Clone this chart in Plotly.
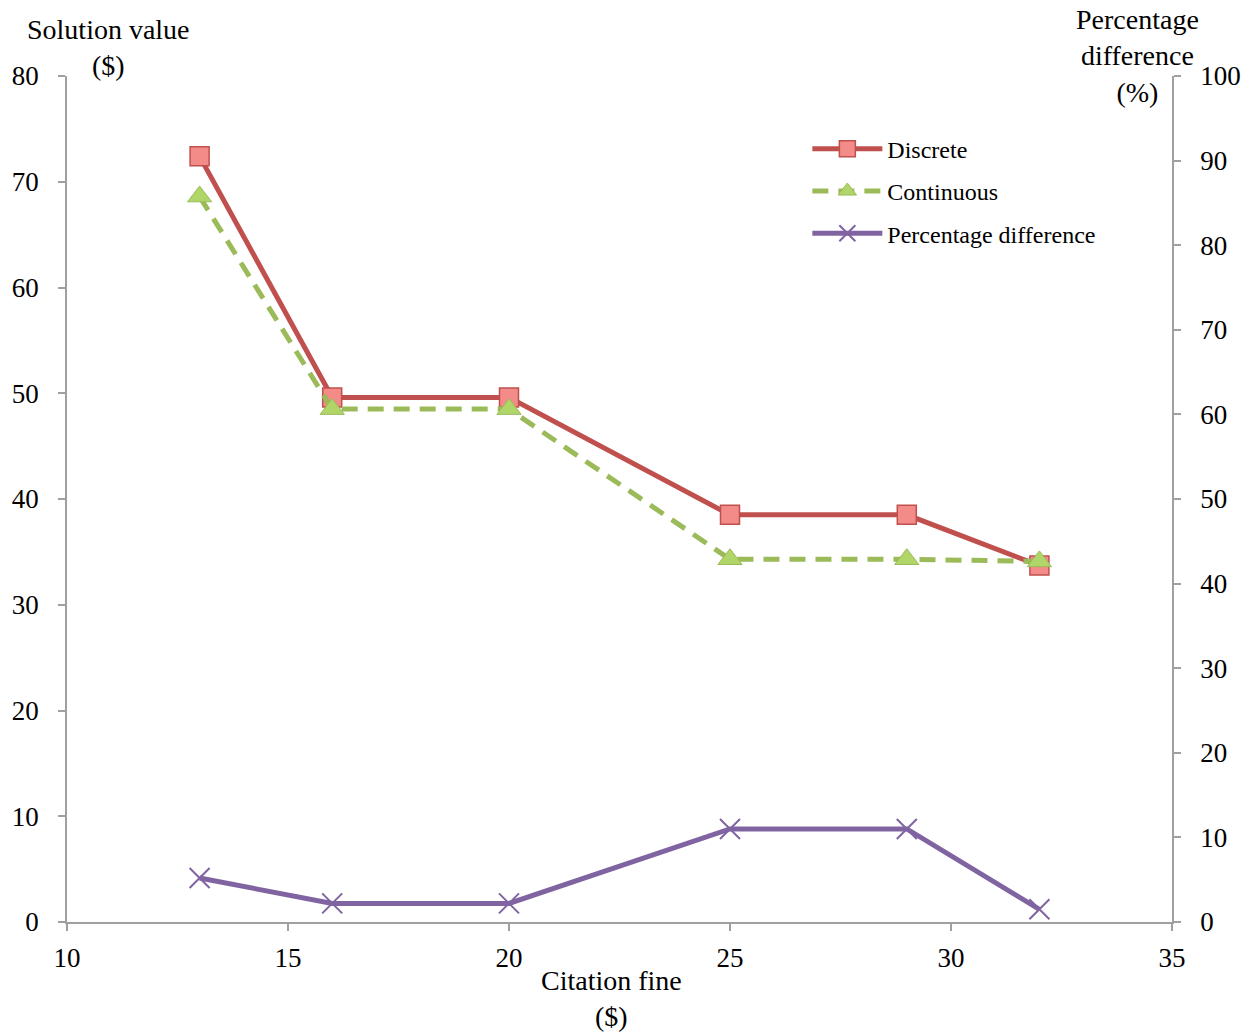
import plotly.graph_objects as go

fine = [13, 16, 20, 25, 29, 32]
discrete = [72.4, 49.6, 49.6, 38.5, 38.5, 33.7]
continuous = [68.6, 48.5, 48.5, 34.3, 34.3, 34.1]
pct_diff = [5.2, 2.2, 2.2, 11.0, 11.0, 1.5]

FONT = "Liberation Serif"
fig = go.Figure()
fig.add_trace(go.Scatter(
    x=fine, y=discrete, name="Discrete", mode="lines+markers", legendgroup="a",
    line=dict(color="#C0504D", width=5),
    marker=dict(symbol="square", size=19, color="#F38B88", line=dict(color="#C0504D", width=1.5)),
))
fig.add_trace(go.Scatter(
    x=fine, y=continuous, name="Continuous", mode="lines+markers", legendgroup="b",
    line=dict(color="#9BBB59", width=5, dash="16px,10px"),
    marker=dict(symbol="triangle-up", size=21, color="#B0D66A", line=dict(color="#9BBB59", width=1)),
))
fig.add_trace(go.Scatter(
    x=fine, y=pct_diff, name="Percentage difference", mode="lines+markers", yaxis="y2", legendgroup="c",
    line=dict(color="#8064A2", width=5),
    marker=dict(symbol="x-thin", size=20, line=dict(color="#8064A2", width=2)),
))

axis_common = dict(showgrid=False, zeroline=False, showline=True, linecolor="#A0A0A0", linewidth=1.5,
                   ticks="outside", tickcolor="#A0A0A0", ticklen=7, tickwidth=1.5,
                   tickfont=dict(family=FONT, size=27, color="black"))
fig.update_layout(
    width=1253, height=1032,
    margin=dict(l=65, r=80, t=76, b=110),
    plot_bgcolor="white", paper_bgcolor="white",
    font=dict(family=FONT, size=24, color="black"),
    xaxis=dict(range=[10, 35], dtick=5, ticklabelstandoff=4, **axis_common),
    yaxis=dict(range=[0, 80], dtick=10, ticklabelstandoff=14, **axis_common),
    yaxis2=dict(range=[0, 100], dtick=10, overlaying="y", side="right", ticklabelstandoff=14, **axis_common),
    legend=dict(x=0.67, y=0.94, xanchor="left", yanchor="top", bgcolor="rgba(0,0,0,0)",
                font=dict(family=FONT, size=24), itemwidth=70, tracegroupgap=8,
                traceorder="grouped"),
    showlegend=True,
)
fig.add_annotation(text="Solution value<br>($)", xref="paper", yref="paper", x=0.038, y=1.034,
                   xanchor="center", yanchor="middle", showarrow=False, align="center",
                   font=dict(family=FONT, size=28))
fig.add_annotation(text="Percentage<br>difference<br>(%)", xref="paper", yref="paper", x=0.969, y=1.0236,
                   xanchor="center", yanchor="middle", showarrow=False, align="center",
                   font=dict(family=FONT, size=28))
fig.add_annotation(text="Citation fine<br>($)", xref="paper", yref="paper", x=0.493, y=-0.091,
                   xanchor="center", yanchor="middle", showarrow=False, align="center",
                   font=dict(family=FONT, size=28))
fig.write_html("out.html")
